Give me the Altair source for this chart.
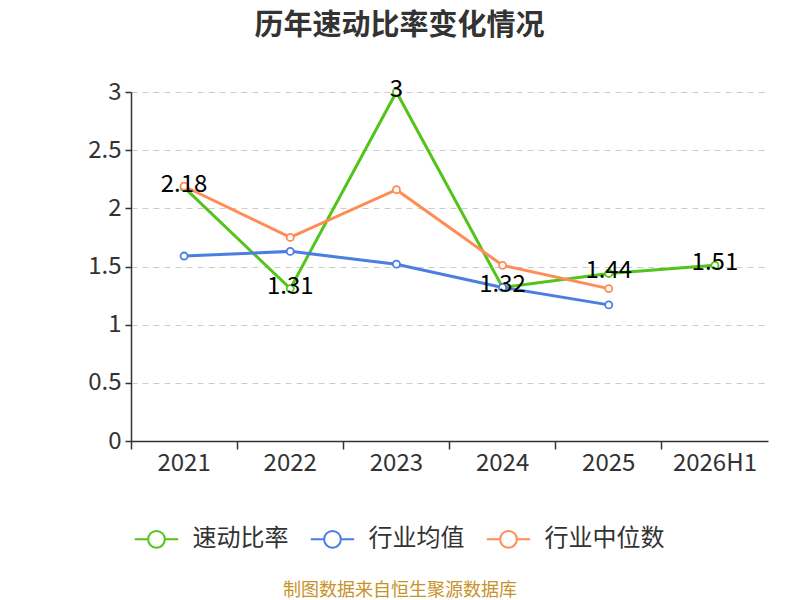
import altair as alt
import pandas as pd

years = ["2021", "2022", "2023", "2024", "2025", "2026H1"]
quick_ratio = [2.18, 1.31, 3.00, 1.32, 1.44, 1.51]
industry_mean = [1.59, 1.63, 1.52, 1.32, 1.17]
industry_median = [2.19, 1.75, 2.16, 1.51, 1.31]

series_names = ["速动比率", "行业均值", "行业中位数"]
colors = ["#52c41a", "#4a7ee0", "#ff8c55"]

rows = []
for name, vals in zip(series_names, [quick_ratio, industry_mean, industry_median]):
    for y, v in zip(years, vals):
        rows.append({"year": y, "value": v, "series": name})
df = pd.DataFrame(rows)
df_label = df[df["series"] == "速动比率"].copy()
df_label["label"] = df_label["value"].map(lambda v: f"{v:g}")

W, H = 637, 349
FONT = "Noto Sans CJK SC"

x_enc = alt.X(
    "year:N", sort=years, title=None,
    scale=alt.Scale(type="band", domain=years, paddingInner=0, paddingOuter=0),
    axis=alt.Axis(labelAngle=0, bandPosition=0, labelFontSize=24, labelColor="#333333",
                  domainColor="#333333", tickColor="#333333", tickSize=8, domainWidth=1.5,
                  tickWidth=1.5, labelPadding=2, grid=False, labelFont=FONT),
)
y_enc = alt.Y(
    "value:Q", title=None,
    scale=alt.Scale(domain=[0, 3], nice=False),
    axis=alt.Axis(values=[0, 0.5, 1, 1.5, 2, 2.5, 3], format="~g", labelFontSize=24,
                  labelColor="#333333", domainColor="#333333", tickColor="#333333",
                  tickSize=6, domainWidth=1.5, tickWidth=1.5, labelPadding=4, gridColor="#cccccc",
                  gridDash=[6, 5], gridWidth=1.2, labelFont=FONT),
)
color_enc = alt.Color(
    "series:N", sort=series_names,
    scale=alt.Scale(domain=series_names, range=colors),
    legend=alt.Legend(
        orient="none", legendX=10.5, legendY=432, direction="horizontal", title=None,
        labelFontSize=24, labelColor="#333333", labelFont=FONT,
        symbolType="M-1.55,0L-0.6,0M0.6,0L1.55,0M-0.6,0A0.6,0.6,0,1,1,0.6,0A0.6,0.6,0,1,1,-0.6,0Z",
        symbolSize=784, symbolStrokeWidth=2, symbolFillColor="white",
        columnPadding=18, labelOffset=21,
    ),
)

base = alt.Chart(df)
lines = base.mark_line(strokeWidth=3).encode(x=x_enc, y=y_enc, color=color_enc)
points = base.mark_point(filled=True, fill="white", size=50, strokeWidth=1.8, opacity=1).encode(
    x=x_enc, y=y_enc, stroke=alt.Stroke("series:N", scale=alt.Scale(domain=series_names, range=colors), legend=None)
)
labels = alt.Chart(df_label).mark_text(fontSize=24, color="#000000", baseline="middle", dy=-2, font=FONT).encode(
    x=x_enc, y=y_enc, text="label:N"
)
source = alt.Chart(pd.DataFrame({"t": ["制图数据来自恒生聚源数据库"]})).mark_text(
    fontSize=18, color="#c8922a", font=FONT, baseline="middle"
).encode(x=alt.value(269), y=alt.value(499), text="t:N")

chart = alt.layer(lines, points, labels, source).properties(
    width=W, height=H, background="white",
    title=alt.TitleParams("历年速动比率变化情况", fontSize=29, fontWeight="bold", color="#333333",
                          font=FONT, anchor="middle", offset=37, dx=-50),
    padding={"left": 79, "top": 4, "right": 20, "bottom": 10},
).configure_view(stroke=None)

chart.save("out.html", embed_options={"renderer": "svg", "actions": False})
